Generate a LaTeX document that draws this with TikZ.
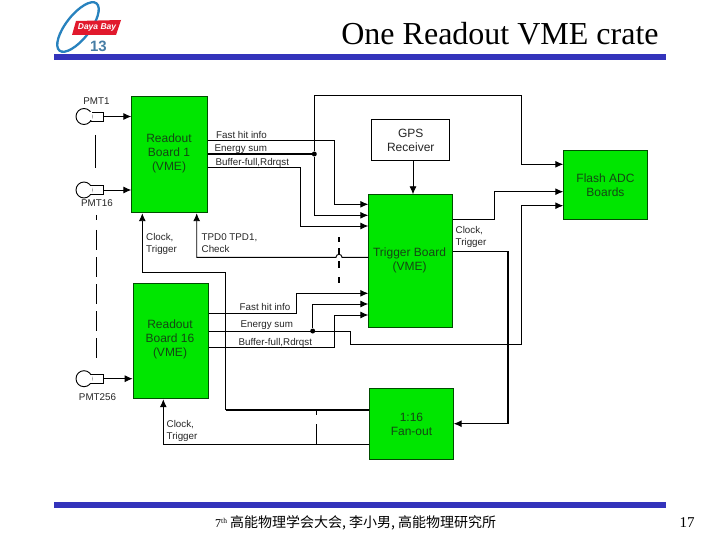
\documentclass[tikz,border=0pt]{standalone}
\usepackage{fontspec}
\setmainfont{Liberation Serif}
\setsansfont{Liberation Sans}
\newfontfamily\cjk{Noto Sans CJK SC}
\usetikzlibrary{arrows.meta}
\definecolor{boxgreen}{RGB}{0,230,0}
\definecolor{barblue}{RGB}{51,51,187}
\definecolor{logoblue}{RGB}{40,130,190}
\definecolor{logored}{RGB}{225,25,45}
\definecolor{logogray}{RGB}{70,125,165}
\definecolor{boxtext}{RGB}{20,70,20}
\tikzset{
  x=1pt,y=-1pt,
  board/.style={draw=black!70!green,line width=0.9pt,fill=boxgreen,inner sep=0pt,font=\sffamily\fontsize{12}{14}\selectfont,text=boxtext,align=center,anchor=north west},
  plain/.style={draw=black,line width=0.9pt,fill=white,inner sep=0pt,font=\sffamily\fontsize{12}{14}\selectfont,text=black!85,align=center,anchor=north west},
  boxlabel/.style={font=\sffamily\fontsize{12}{14}\selectfont,text=boxtext,align=center},
  wire/.style={draw=black,line width=0.9pt},
  sig/.style={wire,-{Latex[length=8pt,width=7pt]}},
  dashline/.style={draw=black,line width=0.9pt,dash pattern=on 20pt off 7pt},
  lbl/.style={font=\sffamily\fontsize{9.8}{12}\selectfont,text=black!85,align=left,inner sep=0pt},
  bar/.style={fill=barblue,draw=none},
  junction/.style={circle,fill=black,inner sep=0pt,minimum size=5pt},
  bulb/.style={circle,draw=black,line width=0.9pt,fill=white,minimum size=16pt,inner sep=0pt},
  stem/.style={draw=black,line width=0.9pt,fill=white,inner sep=0pt,minimum width=14pt,minimum height=9pt,anchor=east}
}
\begin{document}
\begin{tikzpicture}
\useasboundingbox (0,0) rectangle (720,540);
\fill[white] (0,0) rectangle (720,540);
% logo
\draw[logoblue,line width=2.3pt,rotate around={52:(78,27)}] (78,27) ellipse (30 and 12);
\fill[logored] (76,21) -- (121,20) -- (116,35) -- (72,35) -- cycle;
\node (logotext) at (97,27.5) {\sffamily\bfseries\itshape\fontsize{8.5}{9}\selectfont\textcolor{white}{Daya Bay}};
\node (logonum) at (98.5,46.5) {\sffamily\bfseries\fontsize{15}{15}\selectfont\textcolor{logogray}{13}};
% title and bars
\node[anchor=base,inner sep=0pt] (title) at (500,45) {\fontsize{32}{34}\selectfont One Readout VME crate};
\fill[bar] (54,54) rectangle (666,60);
\fill[bar] (54,502) rectangle (666,508);
\node[anchor=base west,inner sep=0pt] (foot) at (215,527) {\fontsize{12}{12}\selectfont 7\raisebox{4pt}{\fontsize{7.5}{8}\selectfont th} \cjk\fontsize{14}{14}\selectfont 高能物理学会大会, 李小男, 高能物理研究所};
\node[anchor=base,inner sep=0pt] (pg) at (687,527) {\fontsize{15}{16}\selectfont 17};
% boxes
\node[board,minimum width=75.4pt,minimum height=116.6pt] (r1) at (131.3,95.7) {};
\node[board,minimum width=75pt,minimum height=115.6pt] (r16) at (132.7,282.7) {};
\node[plain,minimum width=78pt,minimum height=41pt] (gps) at (371.3,119.3) {GPS\\Receiver};
\node[board,minimum width=83.4pt,minimum height=132.4pt] (trig) at (368.3,194.3) {};
\node[board,minimum width=83.4pt,minimum height=69pt] (adc) at (563.3,150.3) {Flash ADC\\Boards};
\node[board,minimum width=83.4pt,minimum height=71pt] (fan) at (369.3,388.3) {1:16\\Fan-out};
\node[boxlabel] (r1t) at (169,153) {Readout\\Board 1\\(VME)};
\node[boxlabel] (r16t) at (170,339.5) {Readout\\Board 16\\(VME)};
\node[boxlabel] (trt) at (409.5,260) {Trigger Board\\(VME)};
% PMTs
\foreach \n/\yy in {a/116.5,b/190,c/378.7}{
  \node[stem] (st\n) at (104.3,\yy) {};
  \node[bulb] (bu\n) at (84,\yy) {};
  \fill[white] (90,\yy-4) rectangle (92,\yy+4);
}
\coordinate (ra) at (r1.west |- sta.east);
\coordinate (rb) at (r1.west |- stb.east);
\coordinate (rc) at (r16.west |- stc.east);
\draw[sig] (sta.east) -- (ra);
\draw[sig] (stb.east) -- (rb);
\draw[sig] (stc.east) -- (rc);
\node[lbl] (p1) at (96.5,101.5) {PMT1};
\node[lbl] (p16) at (97,203.5) {PMT16};
\node[lbl] (p256) at (97.5,397) {PMT256};
% dashed vertical lines
\coordinate (d1a) at (95.5,135); \coordinate (d1b) at (95.5,168);
\coordinate (d1c) at (96.5,215); \coordinate (d1d) at (96.5,220);
\coordinate (d2a) at (96.5,230); \coordinate (d2b) at (96.5,362);
\draw[wire] (d1a) -- (d1b);
\draw[wire] (d1c) -- (d1d);
\draw[dashline] (d2a) -- (d2b);
% readout 1 outputs
\coordinate (f1) at (r1.east |- 0,140.7);
\coordinate (e1) at (r1.east |- 0,154);
\coordinate (b1) at (r1.east |- 0,167.3);
\coordinate (tf1) at (trig.west |- 0,204.3);
\coordinate (te1) at (trig.west |- 0,215.3);
\coordinate (tb1) at (trig.west |- 0,226);
\node[junction] (j1) at (314.3,154) {};
\draw[sig] (f1) -- (334.7,140.7) -- (334.7,204.3) -- (tf1);
\draw[wire,line width=1.4pt] (e1) -- (j1);
\coordinate (ad1) at (adc.west |- 0,164.3);
\draw[sig] (j1) -- (314.3,95) -- (521.3,95) -- (521.3,164.3) -- (ad1);
\draw[sig] (j1) -- (314.3,215.3) -- (te1);
\draw[sig] (b1) -- (300,167.3) -- (300,226) -- (tb1);
% labels
\node[lbl,anchor=base west] (lf1) at (216,138.5) {Fast hit info};
\node[lbl,anchor=base west] (le1) at (214.5,151.5) {Energy sum};
\node[lbl,anchor=base west] (lb1) at (215.5,166) {Buffer-full,Rdrqst};
\node[lbl,anchor=north west] (lck1) at (146,233) {Clock,\\Trigger};
\node[lbl,anchor=north west] (ltpd) at (201.5,233) {TPD0 TPD1,\\Check};
% GPS
\coordinate (g1) at (gps.south -| 413,0);
\coordinate (g2) at (trig.north -| 413,0);
\draw[sig] (g1) -- (g2);
% trigger -> ADC
\coordinate (tout) at (trig.east |- 0,219.3);
\coordinate (ad2) at (adc.west |- 0,191.7);
\draw[sig] (tout) -- (494.3,219.3) -- (494.3,191.7) -- (ad2);
% clock trigger -> fanout
\coordinate (tck) at (trig.east |- 0,251.3);
\coordinate (fi) at (fan.east |- 0,423.7);
\draw[sig,line width=1.1pt] (tck) -- (508,251.3) -- (508,423.7) -- (fi);
\node[lbl,anchor=north west] (lck) at (455.5,226) {Clock,\\Trigger};
% readout 16 outputs
\coordinate (f16) at (r16.east |- 0,313.3);
\coordinate (e16) at (r16.east |- 0,331);
\coordinate (b16) at (r16.east |- 0,347.3);
\coordinate (tf16) at (trig.west |- 0,293.3);
\coordinate (te16) at (trig.west |- 0,304);
\coordinate (tb16) at (trig.west |- 0,315);
\coordinate (ad3) at (adc.west |- 0,205.7);
\node[junction] (j16) at (312.7,331) {};
\draw[sig] (f16) -- (296.3,313.3) -- (296.3,293.3) -- (tf16);
\draw[sig] (j16) -- (312.7,304) -- (te16);
\draw[sig] (b16) -- (334.3,347.3) -- (334.3,315) -- (tb16);
\draw[sig] (e16) -- (350,331) -- (350,344.3) -- (521.7,344.3) -- (521.7,205.7) -- (ad3);
\node[lbl,anchor=base west] (lf16) at (239.5,310) {Fast hit info};
\node[lbl,anchor=base west] (le16) at (240.5,327.5) {Energy sum};
\node[lbl,anchor=base west] (lb16) at (238.5,345) {Buffer-full,Rdrqst};
% TPD with hop
\coordinate (tt) at (trig.west |- 0,257.3);
\coordinate (rt) at (r1.south -| 196.7,0);
\draw[sig] (tt) -- (342,257.3) arc[start angle=0,end angle=-180,radius=3] -- (196.7,257.3) -- (rt);
\coordinate (dm1) at (339,237); \coordinate (dm2) at (339,242);
\coordinate (dm3) at (339,248); \coordinate (dm4) at (339,255);
\coordinate (dm5) at (339,261); \coordinate (dm6) at (339,268);
\coordinate (dm7) at (339,277); \coordinate (dm8) at (339,283);
\draw[wire,line width=1.4pt] (dm1) -- (dm2) (dm3) -- (dm4) (dm5) -- (dm6) (dm7) -- (dm8);
% fan-out outputs
\coordinate (fo1) at (fan.west |- 0,410);
\coordinate (fo2) at (fan.west |- 0,444);
\coordinate (r1c) at (r1.south -| 142.3,0);
\coordinate (r16c) at (r16.south -| 163.3,0);
\draw[wire,line width=1.4pt] (fo1) -- (225.7,410);
\draw[sig] (225.7,410) -- (225.7,272.3) -- (142.3,272.3) -- (r1c);
\draw[sig] (fo2) -- (163.3,444) -- (r16c);
\coordinate (d3a) at (316.7,410); \coordinate (d3b) at (316.7,415);
\coordinate (d3c) at (316.7,424); \coordinate (d3d) at (316.7,444);
\draw[wire] (d3a) -- (d3b) (d3c) -- (d3d);
\node[lbl,anchor=north west] (lck16) at (166.5,420) {Clock,\\Trigger};
\end{tikzpicture}
\end{document}
